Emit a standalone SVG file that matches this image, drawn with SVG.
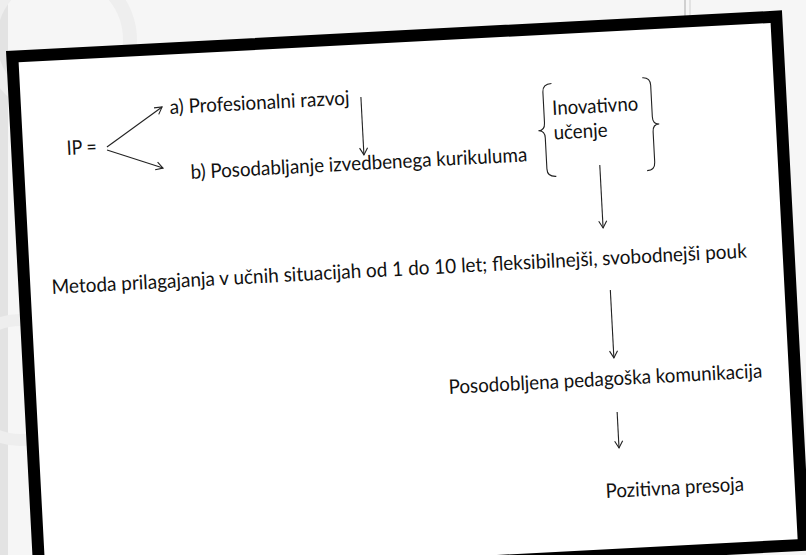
<svg xmlns="http://www.w3.org/2000/svg" width="806" height="555" viewBox="0 0 806 555">
<style>
.t{font-family:"Lato","Open Sans","Liberation Sans",sans-serif;font-size:20px;fill:#111;}
.c{fill:none;stroke:#222;stroke-width:1.1;}
.a{marker-end:url(#ah);}
</style>
<defs>
<marker id="ah" markerUnits="userSpaceOnUse" markerWidth="12" markerHeight="12" refX="0" refY="0" orient="auto" overflow="visible">
<path d="M-7,-4 L0,0 L-7,4" fill="none" stroke="#222" stroke-width="1.1"/>
</marker>
</defs>
<rect width="806" height="555" fill="#f6f6f6"/>
<rect x="0" y="0" width="8" height="555" fill="#e3e3e3"/>
<circle cx="60" cy="40" r="70" fill="none" stroke="#eeeeee" stroke-width="14"/>
<circle cx="20" cy="380" r="60" fill="none" stroke="#eeeeee" stroke-width="12"/>
<line x1="685" y1="0" x2="685" y2="46" stroke="#b8b8b8" stroke-width="1.2"/>
<line x1="690" y1="0" x2="690" y2="44" stroke="#d0d0d0" stroke-width="1"/>
<g transform="translate(6,51) rotate(-3)">
<g id="frame"><rect x="6" y="6" width="765" height="529" fill="#ffffff" stroke="#000" stroke-width="12"/></g>
<g id="connectors">
<line class="c a" x1="95.8" y1="101.2" x2="152.9" y2="64.1"/>
<line class="c a" x1="95.7" y1="104.2" x2="150.7" y2="125.1"/>
<line class="c a" x1="352" y1="64.5" x2="352" y2="122.5"/>
<line class="c a" x1="587" y1="145" x2="587" y2="208"/>
<line class="c a" x1="591" y1="270.3" x2="591" y2="338.3"/>
<line class="c a" x1="591.4" y1="392.5" x2="591.4" y2="428.5"/>
</g>
<g id="ip"><text class="t" x="55.5" y="107" textLength="30" lengthAdjust="spacingAndGlyphs">IP =</text></g>
<g id="a"><text class="t" x="160.5" y="71.5" textLength="180" lengthAdjust="spacingAndGlyphs">a) Profesionalni razvoj</text></g>
<g id="b"><text class="t" x="178" y="137.5" textLength="337" lengthAdjust="spacingAndGlyphs">b) Posodabljanje izvedbenega kurikuluma</text></g>
<g id="inovativno">
<path class="c" d="M543,61 Q534,61 534,69 L534,100 Q534,107.5 527.5,107.5 Q534,107.5 534,115 L534,146 Q534,154 543,154"/>
<path class="c" d="M634,60 Q642,60 642,68 L642,99.5 Q642,107 648.5,107 Q642,107 642,114.5 L642,145 Q642,153 634,153"/>
<text class="t" x="542.5" y="92.5" textLength="86" lengthAdjust="spacingAndGlyphs">Inovativno</text>
<text class="t" x="542.5" y="117" textLength="54" lengthAdjust="spacingAndGlyphs">učenje</text>
</g>
<g id="metoda"><text class="t" x="33.2" y="245.1" textLength="696" lengthAdjust="spacingAndGlyphs">Metoda prilagajanja v učnih situacijah od 1 do 10 let; fleksibilnejši, svobodnejši pouk</text></g>
<g id="komunikacija"><text class="t" x="424.4" y="365.7" textLength="314" lengthAdjust="spacingAndGlyphs">Posodobljena pedagoška komunikacija</text></g>
<g id="presoja"><text class="t" x="575.8" y="477.8" textLength="138.5" lengthAdjust="spacingAndGlyphs">Pozitivna presoja</text></g>
</g>
</svg>
